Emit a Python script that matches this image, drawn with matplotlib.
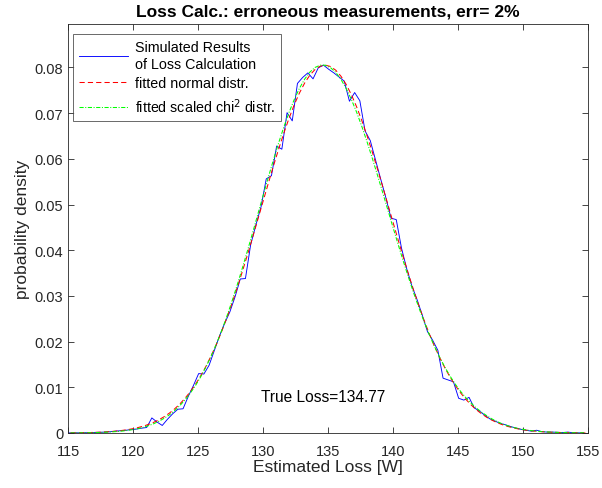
import numpy as np
import matplotlib
matplotlib.use('Agg')
import matplotlib.pyplot as plt
from matplotlib import rcParams

rcParams['font.family'] = 'sans-serif'
rcParams['font.sans-serif'] = ['Liberation Sans', 'Arial', 'DejaVu Sans']
rcParams['font.size'] = 10

# simulated loss results (histogram density, bin width 0.4 W)
x_sim = 115.05 + 0.4 * np.arange(100)
p_sim = [0.00002, 0.00003, 0.00004, 0.00006, 0.00008, 0.00012, 0.00015, 0.00020, 0.00028, 0.00040,
         0.00050, 0.00060, 0.00075, 0.00085, 0.00105, 0.00120, 0.00330, 0.00240, 0.00165, 0.00300,
         0.00420, 0.00520, 0.00530, 0.00800, 0.01040, 0.01300, 0.01290, 0.01480, 0.01800, 0.02120,
         0.02400, 0.02650, 0.02980, 0.03370, 0.03380, 0.04120, 0.04550, 0.04950, 0.05560, 0.05630,
         0.06280, 0.06210, 0.07010, 0.06830, 0.07650, 0.07780, 0.07880, 0.07750, 0.07990, 0.08050,
         0.07960, 0.07880, 0.07790, 0.07700, 0.07260, 0.07450, 0.07270, 0.06610, 0.06400, 0.05980,
         0.05560, 0.05150, 0.04700, 0.04670, 0.04050, 0.03600, 0.03220, 0.02920, 0.02580, 0.02220,
         0.02030, 0.01810, 0.01200, 0.01160, 0.01120, 0.00760, 0.00720, 0.00780, 0.00550, 0.00480,
         0.00390, 0.00310, 0.00260, 0.00210, 0.00180, 0.00140, 0.00110, 0.00080, 0.00060, 0.00040,
         0.00060, 0.00030, 0.00020, 0.00020, 0.00015, 0.00010, 0.00020, 0.00005, 0.00003, 0.00002]

# fitted curves
x_fit = 115.2 + 0.4 * np.arange(100)
p_norm = [3.3e-5, 4.5e-5, 6.2e-5, 8.3e-5, 1.12e-4, 1.50e-4, 1.99e-4, 2.62e-4, 3.43e-4, 4.47e-4,
          5.78e-4, 7.42e-4, 9.47e-4, 1.20e-3, 1.51e-3, 1.89e-3, 2.35e-3, 2.91e-3, 3.57e-3, 4.35e-3,
          5.27e-3, 6.34e-3, 7.59e-3, 9.01e-3, 0.01063, 0.01247, 0.01452, 0.01682, 0.01932, 0.02207,
          0.02506, 0.02826, 0.03165, 0.03523, 0.03895, 0.04279, 0.04671, 0.05064, 0.05456, 0.05840,
          0.06210, 0.06560, 0.06885, 0.07180, 0.07438, 0.07656, 0.07829, 0.07954, 0.08027, 0.08050,
          0.08019, 0.07938, 0.07806, 0.07626, 0.07402, 0.07138, 0.06838, 0.06509, 0.06155, 0.05782,
          0.05398, 0.05006, 0.04612, 0.04222, 0.03839, 0.03469, 0.03113, 0.02777, 0.02459, 0.02165,
          0.01893, 0.01645, 0.01420, 0.01218, 0.01037, 0.00878, 0.00738, 0.00617, 0.00512, 0.00423,
          0.00346, 0.00282, 0.00228, 0.00183, 0.00146, 0.00116, 9.1e-4, 7.1e-4, 5.6e-4, 4.3e-4,
          3.3e-4, 2.5e-4, 1.9e-4, 1.4e-4, 1.1e-4, 8e-5, 6e-5, 4e-5, 3e-5, 2e-5]
p_chi2 = [2e-5, 3e-5, 4e-5, 5e-5, 7e-5, 1.0e-4, 1.4e-4, 1.9e-4, 2.5e-4, 3.3e-4,
          4.3e-4, 5.7e-4, 7.5e-4, 9.7e-4, 1.25e-3, 1.61e-3, 2.04e-3, 2.58e-3, 3.22e-3, 3.98e-3,
          4.90e-3, 5.98e-3, 7.24e-3, 8.69e-3, 0.01035, 0.01225, 0.01438, 0.01677, 0.01938, 0.02225,
          0.02537, 0.02871, 0.03225, 0.03598, 0.03984, 0.04381, 0.04785, 0.05188, 0.05587, 0.05975,
          0.06346, 0.06693, 0.07012, 0.07296, 0.07541, 0.07742, 0.07896, 0.07999, 0.08049, 0.08048,
          0.07993, 0.07890, 0.07737, 0.07537, 0.07297, 0.07020, 0.06710, 0.06375, 0.06019, 0.05647,
          0.05268, 0.04883, 0.04500, 0.04122, 0.03752, 0.03397, 0.03055, 0.02734, 0.02430, 0.02149,
          0.01889, 0.01651, 0.01435, 0.01241, 0.01065, 0.00910, 0.00773, 0.00654, 0.00549, 0.00459,
          0.00381, 0.00310, 0.00251, 0.00201, 0.00160, 0.00127, 1.00e-3, 7.8e-4, 6.1e-4, 4.7e-4,
          3.6e-4, 2.8e-4, 2.1e-4, 1.6e-4, 1.2e-4, 9e-5, 7e-5, 5e-5, 4e-5, 3e-5]

true_loss = 134.77
err = 2

axcol = '#262626'
fig = plt.figure(figsize=(6.02, 4.89), dpi=100)
ax = fig.add_axes([68/602, 55/489, 520/602, 409/489])

ax.plot(x_sim, p_sim, color=(0, 0, 1), lw=0.65, label='Simulated Results\nof Loss Calculation')
ax.plot(x_fit, p_norm, color=(1, 0, 0), lw=0.75, dashes=(5, 3), label='fitted normal distr.')
ax.plot(x_fit, p_chi2, color=(0, 1, 0), lw=0.75, dashes=(4, 1.5, 1, 1.5),
        label='fitted scaled chi$^2$ distr.')

ax.text(129.85, 0.0079, 'True Loss=%.2f' % true_loss, ha='left', va='center', fontsize=11.2, color='k')

ax.set_xlim(115, 155)
ax.set_ylim(0, 0.0895)
ax.set_xticks(np.arange(115, 156, 5))
ax.set_yticks(np.arange(0, 0.081, 0.01))
ax.set_yticklabels(['0', '0.01', '0.02', '0.03', '0.04', '0.05', '0.06', '0.07', '0.08'])
ax.tick_params(direction='in', top=True, right=True, length=4, width=0.6,
               colors=axcol, labelsize=10.5, labelcolor=axcol)
ax.tick_params(axis='x', pad=8)
for s in ax.spines.values():
    s.set_color(axcol)
    s.set_linewidth(0.6)

ax.set_xlabel('Estimated Loss [W]', fontsize=12.5, color=axcol, labelpad=1)
ax.set_ylabel('probability density', fontsize=12.5, color=axcol, labelpad=3)
ax.set_title('Loss Calc.: erroneous measurements, err= %d%%' % err, fontsize=12.5,
             fontweight='bold', pad=6)

leg = ax.legend(loc='upper left', bbox_to_anchor=(5/520, 1 - 10/409), borderaxespad=0,
                fontsize=10.3, frameon=True, fancybox=False,
                handlelength=3.4, handletextpad=0.45, borderpad=0.45, labelspacing=0.4)
leg.get_frame().set_edgecolor(axcol)
leg.get_frame().set_linewidth(0.6)

plt.savefig('out.png', dpi=100)
